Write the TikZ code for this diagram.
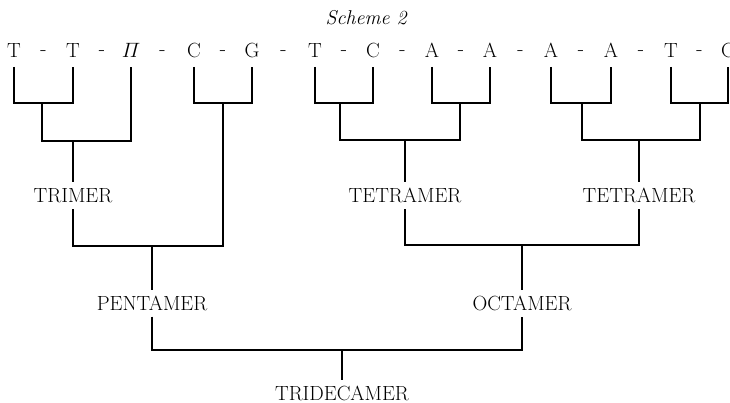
\documentclass[tikz,border=0pt]{standalone}
\usepackage{amsmath}
\usetikzlibrary{calc}
\begin{document}
\begin{tikzpicture}[x=1pt,y=-1pt,line width=1.2pt,
  unit/.style={font=\fontsize{20.5}{24}\selectfont,inner sep=0pt,outer ysep=9pt,text height=14pt,text depth=0pt,anchor=south},
  link/.style={font=\fontsize{20.5}{24}\selectfont,inner sep=0pt,anchor=base},
  mer/.style={font=\fontsize{20.5}{24}\selectfont,inner sep=0pt,outer ysep=6.5pt,text height=14pt,text depth=0pt}]
  \useasboundingbox (0,0) rectangle (730,403);
  \node[font=\fontsize{20}{24}\selectfont\itshape] (title) at (366,18) {Scheme 2};
  % the sequence
  \foreach \x/\t [count=\i] in {14/T,73/T,131/$\varPi$,194/C,252/G,315/T,373/C,432/A,490/A,551/A,611/A,671/T,728/C}
    \node[unit] (s\i) at (\x,67) {\t};
  \foreach \i [evaluate=\i as \j using int(\i+1)] in {1,...,12}
    \node[link] (d\i) at ($(s\i.south)!0.5!(s\j.south)+(0,-11)$) {-};
  % dimers
  \foreach \a/\b/\x [count=\k] in {1/2/42,4/5/223,6/7/340,8/9/460,10/11/582,12/13/700}
    \draw (s\a.south) |- (\x,103) coordinate (p\k) -| (s\b.south);
  \node[mer] (trimer) at (73,196) {TRIMER};
  \node[mer] (tetra1) at (405,196) {TETRAMER};
  \node[mer] (tetra2) at (639,196) {TETRAMER};
  \node[mer] (penta) at (152,303) {PENTAMER};
  \node[mer] (octa) at (522,303) {OCTAMER};
  \node[mer] (trideca) at (342,393) {TRIDECAMER};
  \draw (p1) |- (73,141) coordinate (q1) -| (s3.south);
  \draw (q1) -- (trimer.north);
  \draw (p3) |- (405,140) coordinate (q2) -| (p4);
  \draw (q2) -- (tetra1.north);
  \draw (p5) |- (639,140) coordinate (q3) -| (p6);
  \draw (q3) -- (tetra2.north);
  \draw (trimer.south) |- (152,246) coordinate (r1) -| (p2);
  \draw (r1) -- (penta.north);
  \draw (tetra1.south) |- (522,245) coordinate (r2) -| (tetra2.south);
  \draw (r2) -- (octa.north);
  \draw (penta.south) |- (342,350) coordinate (r3) -| (octa.south);
  \draw (r3) -- (trideca.north);
\end{tikzpicture}
\end{document}
